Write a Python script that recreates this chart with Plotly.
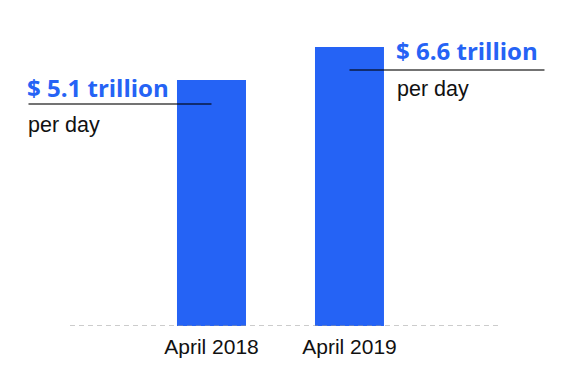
import plotly.graph_objects as go

categories = ["April 2018", "April 2019"]
values = [5.1, 6.6]
value_labels = ["$ 5.1 trillion", "$ 6.6 trillion"]
sub_labels = ["per day", "per day"]

BLUE = "#2563F5"
Y_MIN = -6.08
Y_MAX = 7.83
X_MIN = -1.5326
X_MAX = 2.598

fig = go.Figure()
fig.add_trace(go.Bar(
    x=[0, 1], y=[v - Y_MIN for v in values], base=Y_MIN,
    width=0.5, marker=dict(color=BLUE, line=dict(width=0)),
    hoverinfo="skip",
))

# dashed baseline
fig.add_shape(type="line", xref="x", yref="y", xsizemode="pixel", xanchor=0,
              x0=-141.5, x1=288.5, y0=Y_MIN, y1=Y_MIN,
              line=dict(color="#999999", width=1, dash="5px,4px"))

# label leader lines (left for first bar, right for second)
line_specs = [(-183, 0, -24), (0, 195, -23)]
for i, (v, (a, b, dy)) in enumerate(zip(values, line_specs)):
    fig.add_shape(type="line", xref="x", yref="y", xsizemode="pixel", ysizemode="pixel",
                  xanchor=i, yanchor=v, x0=a, x1=b, y0=dy, y1=dy,
                  line=dict(color="rgba(0,0,0,0.55)", width=2), layer="above")

label_specs = [(-186, -7, -45), (45, -3, -42)]
for i, (v, lab, sub, (xs, ys1, ys2)) in enumerate(zip(values, value_labels, sub_labels, label_specs)):
    fig.add_annotation(x=i, y=v, xref="x", yref="y", text="<b>" + lab + "</b>",
                       showarrow=False, xanchor="left", yanchor="middle",
                       xshift=xs, yshift=ys1,
                       font=dict(family="Open Sans", size=24, color=BLUE))
    fig.add_annotation(x=i, y=v, xref="x", yref="y", text=sub,
                       showarrow=False, xanchor="left", yanchor="middle",
                       xshift=xs + 1, yshift=ys2,
                       font=dict(family="Liberation Sans, Arial", size=21.5, color="#111111"))

fig.update_layout(
    width=570, height=380,
    margin=dict(l=0, r=0, t=20, b=54),
    paper_bgcolor="white", plot_bgcolor="white",
    showlegend=False,
    xaxis=dict(range=[X_MIN, X_MAX], tickmode="array", tickvals=[0, 1], ticktext=categories,
               showgrid=False, zeroline=False, showline=False, ticks="",
               ticklabelstandoff=6,
               tickfont=dict(family="Liberation Sans, Arial", size=21, color="#111111")),
    yaxis=dict(range=[Y_MIN, Y_MAX], visible=False, showgrid=False, zeroline=False),
)

fig.write_html("out.html", config={"displayModeBar": False},
               post_script="document.body.style.margin='0';")
